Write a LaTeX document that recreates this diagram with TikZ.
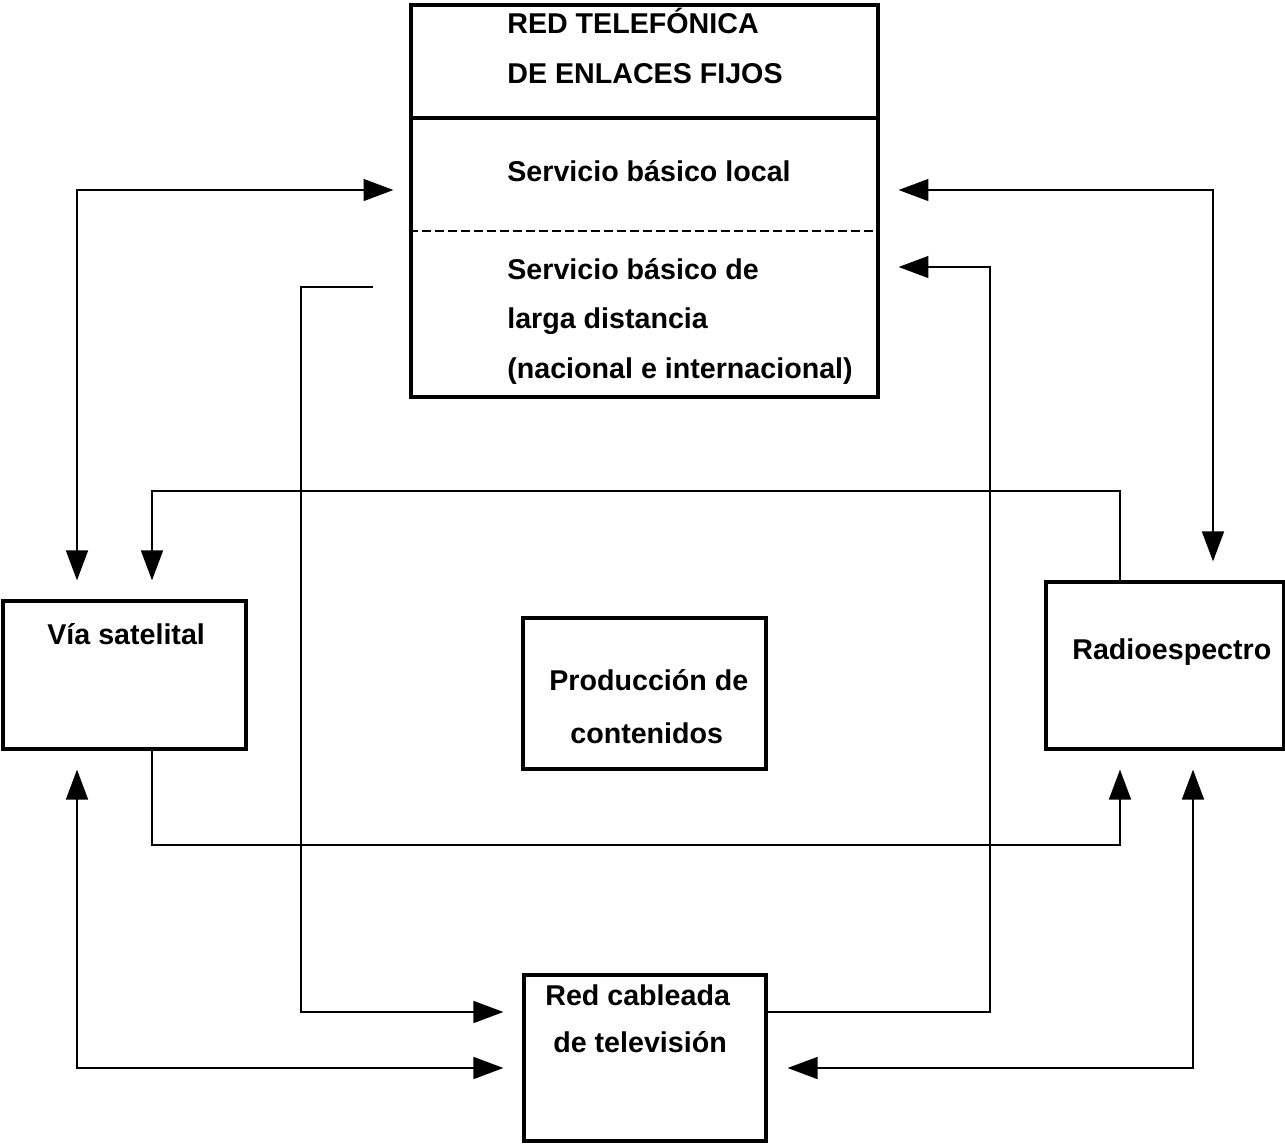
\documentclass[tikz,border=0pt]{standalone}
\usepackage{fontspec}
\setmainfont{Liberation Sans}
\usepackage{tikz}
\usetikzlibrary{arrows.meta}

\begin{document}
\begin{tikzpicture}[x=0.02cm, y=-0.02cm,
	box/.style={draw, line width=1.9pt, inner sep=0pt},
	txt/.style={anchor=base west, inner sep=0pt, font=\fontsize{16.3}{19}\selectfont\bfseries},
	con/.style={line width=0.85pt, >={Triangle[length=17pt, width=12.5pt]}}]
	\fill[white] (0,0) rectangle (1285,1144);
	\useasboundingbox (0,0) rectangle (1285,1144);

	% cajas
	\node[box, minimum width=9.34cm, minimum height=7.84cm] (red) at (644.5,201) {};
	\node[box, minimum width=4.86cm, minimum height=2.96cm] (via) at (124.5,675) {};
	\node[box, minimum width=4.86cm, minimum height=3.02cm] (prod) at (644.5,693.5) {};
	\node[box, minimum width=4.76cm, minimum height=3.34cm] (radio) at (1165,665.5) {};
	\node[box, minimum width=4.84cm, minimum height=3.32cm] (cable) at (645,1058) {};

	% divisiones de la red telefonica
	\draw[line width=1.9pt] (red.west |- 0,118) -- (red.east |- 0,118);
	\draw[line width=0.85pt, dash pattern=on 0.17cm off 0.09cm] (red.west |- 0,231) -- (red.east |- 0,231);

	% textos
	\node[txt] (red1) at (507,33) {RED TELEFÓNICA};
	\node[txt] (red2) at (507,83) {DE ENLACES FIJOS};
	\node[txt] (loc) at (507,181) {Servicio básico local};
	\node[txt] (ld1) at (507,279) {Servicio básico de};
	\node[txt] (ld2) at (507,328) {larga distancia};
	\node[txt] (ld3) at (507,378) {(nacional e internacional)};
	\node[txt] (vtxt) at (47,644) {Vía satelital};
	\node[txt] (p1) at (549,690) {Producción de};
	\node[txt] (p2) at (570,743) {contenidos};
	\node[txt] (rtxt) at (1072,659) {Radioespectro};
	\node[txt] (c1) at (545,1005) {Red cableada};
	\node[txt] (c2) at (553,1052) {de televisión};

	% conexiones
	\draw[con, <->, shorten <=0.32cm, shorten >=0.38cm] (red.west |- 0,190) -- (77,190) -- (via.north -| 77,0);
	\draw[con, <->, shorten <=0.38cm, shorten >=0.38cm] (red.east |- 0,190) -- (1213,190) -- (radio.north -| 1213,0);
	\draw[con, ->, shorten <=0.72cm, shorten >=0.38cm] (red.west |- 0,287) -- (301,287) -- (301,1012) -- (cable.west |- 0,1012);
	\draw[con, ->, shorten >=0.38cm] (cable.east |- 0,1012) -- (990,1012) -- (990,267) -- (red.east |- 0,267);
	\draw[con, ->, shorten >=0.38cm] (radio.north -| 1120,0) -- (1120,491) -- (152,491) -- (via.north -| 152,0);
	\draw[con, ->, shorten >=0.38cm] (via.south -| 152,0) -- (152,845) -- (1120,845) -- (radio.south -| 1120,0);
	\draw[con, <->, shorten <=0.38cm, shorten >=0.38cm] (via.south -| 77,0) -- (77,1068) -- (cable.west |- 0,1068);
	\draw[con, <->, shorten <=0.38cm, shorten >=0.4cm] (radio.south -| 1193,0) -- (1193,1068) -- (cable.east |- 0,1068);
\end{tikzpicture}
\end{document}
